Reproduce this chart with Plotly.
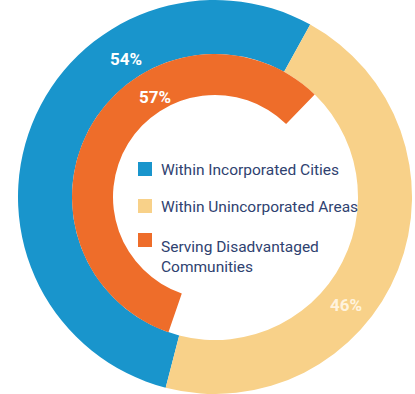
import plotly.graph_objects as go

# ---- data ----
outer_labels = ["Within Incorporated Cities", "Within Unincorporated Areas"]
outer_values = [54, 46]
inner_labels = ["Serving Disadvantaged Communities", "Other"]
inner_values = [57, 43]
legend_labels = ["Within Incorporated Cities", "Within Unincorporated Areas",
                 "Serving Disadvantaged<br>Communities"]
pct_text = ["54%", "46%", "57%"]

# ---- style ----
W, H = 415, 394
BLUE = "#1995CC"
TAN = "#F8D189"
ORANGE = "#EE6D2A"
NAVY = "#2F4270"
FONT = "Liberation Sans Narrow, Roboto, sans-serif"

cx, cy = 215, 197
R_out, R_mid, R_in = 197, 143, 102


def px_x(x):
    return x / W


def px_y(y):
    return 1 - y / H


fig = go.Figure()
fig.add_trace(go.Pie(
    values=outer_values, labels=outer_labels, sort=False,
    direction="counterclockwise", rotation=-165.5,
    hole=R_mid / R_out,
    marker=dict(colors=[BLUE, TAN], line=dict(width=0)),
    textinfo="none", hoverinfo="skip", showlegend=False,
    domain=dict(x=[px_x(cx - R_out), px_x(cx + R_out)],
                y=[px_y(cy + R_out), px_y(cy - R_out)]),
))
fig.add_trace(go.Pie(
    values=inner_values, labels=inner_labels, sort=False,
    direction="counterclockwise", rotation=-161,
    hole=R_in / R_mid,
    marker=dict(colors=[ORANGE, "rgba(255,255,255,0)"], line=dict(width=0)),
    textinfo="none", hoverinfo="skip", showlegend=False,
    domain=dict(x=[px_x(cx - R_mid), px_x(cx + R_mid)],
                y=[px_y(cy + R_mid), px_y(cy - R_mid)]),
))

annotations = []
shapes = []
# percentage labels
pct_pos = [(126, 59, "white"), (346, 305, "#FFF3DD"), (155, 97, "white")]
for t, (x, y, c) in zip(pct_text, pct_pos):
    annotations.append(dict(x=px_x(x), y=px_y(y), xref="paper", yref="paper",
                            text="<b>%s</b>" % t, showarrow=False,
                            font=dict(family=FONT, size=17, color=c),
                            xanchor="center", yanchor="middle"))

# legend
leg_colors = [BLUE, TAN, ORANGE]
sq_tops = [162, 199, 233]
text_y = [170, 207, 257]
for lab, col, st, ty in zip(legend_labels, leg_colors, sq_tops, text_y):
    shapes.append(dict(type="rect", xref="paper", yref="paper",
                       x0=px_x(138), x1=px_x(152), y0=px_y(st + 14), y1=px_y(st),
                       fillcolor=col, line=dict(width=0)))
    annotations.append(dict(x=px_x(159), y=px_y(ty), xref="paper", yref="paper",
                            text=lab, showarrow=False, align="left",
                            font=dict(family=FONT, size=15.5, color=NAVY),
                            xanchor="left", yanchor="middle"))

fig.update_layout(width=W, height=H, margin=dict(l=0, r=0, t=0, b=0),
                  paper_bgcolor="white", plot_bgcolor="white",
                  showlegend=False, annotations=annotations, shapes=shapes)
fig.write_html("out.html")
